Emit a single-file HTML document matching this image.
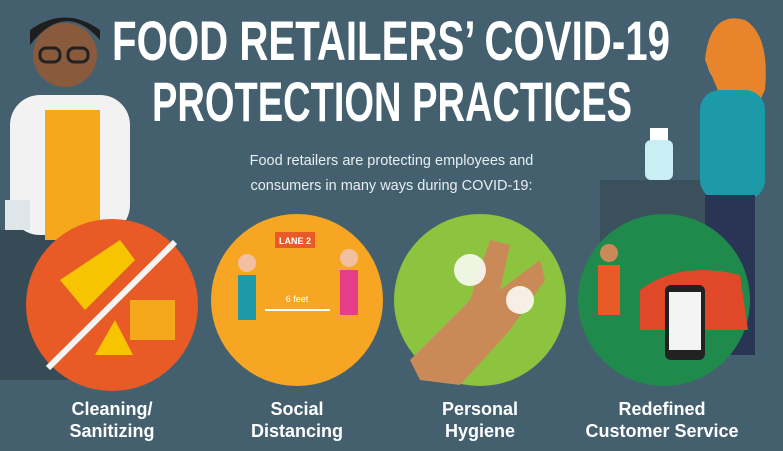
<!DOCTYPE html>
<html><head><meta charset="utf-8"><style>
html,body{margin:0;padding:0;}
body{width:783px;height:451px;overflow:hidden;background:#44606f;position:relative;font-family:"Liberation Sans",sans-serif;}
.sub{position:absolute;left:180px;width:423px;text-align:center;color:#e8eef2;font-size:14.5px;line-height:25px;top:149px;}
.lbl{position:absolute;width:200px;text-align:center;color:#fff;font-weight:bold;font-size:18px;line-height:22px;top:398px;}
svg{position:absolute;left:0;top:0;}
</style></head><body>
<svg width="783" height="451">
  <rect x="0" y="230" width="140" height="150" fill="#374b57"/>
  <rect x="600" y="180" width="120" height="150" fill="#3a505d"/>
  <g>
    <rect x="10" y="95" width="120" height="140" rx="30" fill="#f2f2f2"/>
    <rect x="45" y="110" width="55" height="130" fill="#f6a81c"/>
    <circle cx="65" cy="55" r="32" fill="#8a5a3c"/>
    <path d="M30 45 Q65 0 100 40 L100 30 Q65 5 30 30 Z" fill="#1e1e1e"/>
    <rect x="40" y="48" width="20" height="14" rx="6" fill="none" stroke="#222" stroke-width="3"/>
    <rect x="68" y="48" width="20" height="14" rx="6" fill="none" stroke="#222" stroke-width="3"/>
    <rect x="5" y="200" width="25" height="30" fill="#dfe6ea"/>
  </g>
  <g>
    <circle cx="735" cy="60" r="28" fill="#f2c0a0"/>
    <path d="M705 60 Q710 10 745 20 Q770 35 765 90 L755 110 L720 95 Z" fill="#e8842c"/>
    <rect x="700" y="90" width="65" height="110" rx="20" fill="#1d9aa8"/>
    <rect x="705" y="195" width="50" height="160" fill="#2a3556"/>
    <rect x="645" y="140" width="28" height="40" rx="6" fill="#c9eef4"/>
    <rect x="650" y="128" width="18" height="12" fill="#fff"/>
  </g>
  <text x="112" y="60" textLength="558" lengthAdjust="spacingAndGlyphs" fill="#fff" font-family="Liberation Sans" font-weight="bold" font-size="56">FOOD RETAILERS’ COVID-19</text>
  <text x="152" y="121" textLength="480" lengthAdjust="spacingAndGlyphs" fill="#fff" font-family="Liberation Sans" font-weight="bold" font-size="56">PROTECTION PRACTICES</text>
  <circle cx="112" cy="305" r="86" fill="#e85a26"/>
  <line x1="48" y1="368" x2="175" y2="242" stroke="#f4f4f4" stroke-width="6"/>
  <path d="M60 280 L120 240 L135 260 L85 310 Z" fill="#f6c400"/>
  <rect x="130" y="300" width="45" height="40" fill="#f6a81c"/>
  <path d="M95 355 L115 320 L133 355 Z" fill="#f6c400"/>
  <circle cx="297" cy="300" r="86" fill="#f6a623"/>
  <rect x="275" y="232" width="40" height="16" fill="#e85a26"/>
  <text x="295" y="244" fill="#fff" font-size="9" font-weight="bold" text-anchor="middle" font-family="Liberation Sans">LANE 2</text>
  <rect x="238" y="275" width="18" height="45" fill="#1d9aa8"/><circle cx="247" cy="263" r="9" fill="#f2c0a0"/>
  <rect x="340" y="270" width="18" height="45" fill="#e63d8a"/><circle cx="349" cy="258" r="9" fill="#f2c0a0"/>
  <line x1="265" y1="310" x2="330" y2="310" stroke="#fff" stroke-width="2"/>
  <text x="297" y="302" fill="#fff" font-size="9" text-anchor="middle" font-family="Liberation Sans">6 feet</text>
  <circle cx="480" cy="300" r="86" fill="#8cc43f"/>
  <path d="M410 360 L470 300 L490 240 L510 245 L500 290 L540 260 L545 280 L510 330 L460 385 L420 380 Z" fill="#c98a58"/>
  <circle cx="470" cy="270" r="16" fill="#fff" opacity=".85"/><circle cx="520" cy="300" r="14" fill="#fff" opacity=".85"/>
  <circle cx="664" cy="300" r="86" fill="#1f8a4c"/>
  <path d="M640 290 Q680 260 740 275 L748 330 L640 330 Z" fill="#e0482a"/>
  <rect x="665" y="285" width="40" height="75" rx="6" fill="#222"/>
  <rect x="669" y="292" width="32" height="58" fill="#f4f4f4"/>
  <rect x="598" y="265" width="22" height="50" fill="#e85a26"/><circle cx="609" cy="253" r="9" fill="#c98a58"/>
</svg>
<div class="sub">Food retailers are protecting employees and<br>consumers in many ways during COVID-19:</div>
<div class="lbl" style="left:12px">Cleaning/<br>Sanitizing</div>
<div class="lbl" style="left:197px">Social<br>Distancing</div>
<div class="lbl" style="left:380px">Personal<br>Hygiene</div>
<div class="lbl" style="left:562px">Redefined<br>Customer Service</div>
</body></html>
